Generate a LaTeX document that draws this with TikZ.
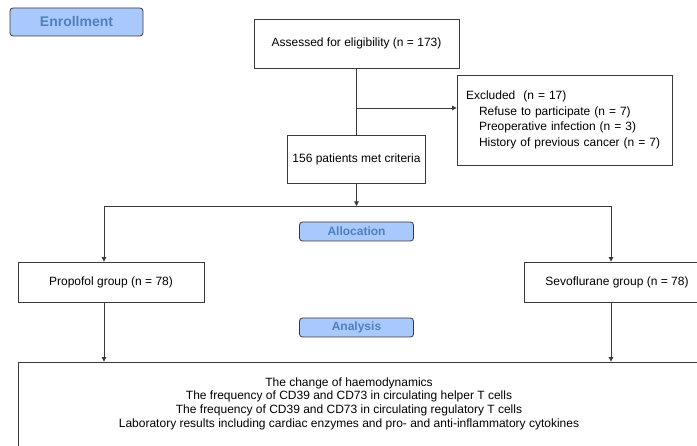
\documentclass[tikz,border=0pt]{standalone}
\usepackage{fontspec}
\setmainfont{Liberation Sans}
\usetikzlibrary{positioning, arrows.meta}
\definecolor{linegray}{HTML}{3A3A3A}
\definecolor{stagefill}{HTML}{A9C8FB}
\definecolor{stagetext}{HTML}{4F81BD}

\begin{document}
\begin{tikzpicture}[
		x=1pt, y=1pt,
		line width=0.8pt,
		>={Triangle[length=4.5pt, width=4.5pt]},
		every node/.style={font=\fontsize{12}{14}\selectfont, inner sep=0pt},
		flowbox/.style={draw=linegray, minimum height=48pt, align=center},
		stage/.style={draw=linegray, fill=stagefill, rounded corners=3pt, text=stagetext,
			font=\bfseries\fontsize{12}{14}\selectfont, minimum width=114pt, minimum height=19pt},
		link/.style={draw=linegray}
	]
	\useasboundingbox (0,0) rectangle (697,-446);

	\node[stage, font=\bfseries\fontsize{14}{16}\selectfont, minimum width=133pt, minimum height=28pt] (enroll) at (76.5,-22) {Enrollment};
	\node[flowbox, minimum width=205pt, minimum height=49pt] (assess) at (356.5,-43.5) {Assessed for eligibility (n = 173)};
	\node[flowbox, node distance=115.5pt, below of=assess, minimum width=138pt] (crit) {156 patients met criteria};
	\node[flowbox, text width=197pt, inner xsep=9pt, minimum height=90pt, align=left, font=\fontsize{12}{15.6}\selectfont] (excl) at (564.5,-120)
		{Excluded~~(n = 17)\\
		\hspace*{13pt}Refuse to participate (n = 7)\\
		\hspace*{13pt}Preoperative infection (n = 3)\\
		\hspace*{13pt}History of previous cancer (n = 7)};

	\node[stage, node distance=72.5pt, below of=crit] (alloc) {Allocation};
	\node[flowbox, minimum width=186pt, minimum height=40pt] (prop) at (111,-282) {Propofol group (n = 78)};
	\node[flowbox, node distance=506pt, right of=prop, minimum width=186pt, minimum height=40pt] (sevo) {Sevoflurane group (n = 78)};
	\node[stage, node distance=96pt, below of=alloc] (analysis) {Analysis};

	% outcome box, text set a bit left of its middle
	\node[draw=linegray, minimum width=692pt, minimum height=88pt] (result) at (364,-406) {};
	\node[align=center, font=\fontsize{12}{13.7}\selectfont] (resulttext) at (349,-403.5)
		{The change of haemodynamics\\
		The frequency of CD39 and CD73 in circulating helper T cells\\
		The frequency of CD39 and CD73 in circulating regulatory T cells\\
		Laboratory results including cardiac enzymes and pro- and anti-inflammatory cytokines};

	\coordinate (branch) at (356.5,-108);
	\coordinate (split) at (356.5,-206);
	\coordinate (lft) at (104,-206);
	\coordinate (rgt) at (611,-206);

	\draw[link] (assess) -- (crit);
	\draw[link, ->] (branch) -- (branch -| excl.west);
	\draw[link, ->] (crit) -- (split);
	\draw[link] (lft) -- (rgt);
	\draw[link, ->] (lft) -- (lft |- prop.north);
	\draw[link, ->] (rgt) -- (rgt |- sevo.north);
	\draw[link, ->] (lft |- prop.south) -- (lft |- result.north);
	\draw[link, ->] (rgt |- sevo.south) -- (rgt |- result.north);
\end{tikzpicture}
\end{document}
